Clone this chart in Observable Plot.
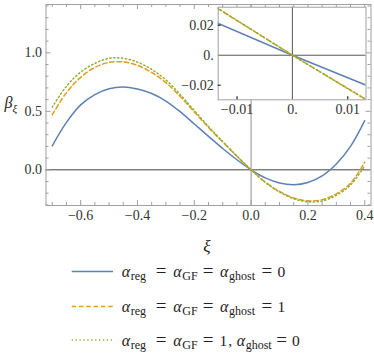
<!DOCTYPE html>
<html><head><meta charset="utf-8">
<script src="https://cdn.jsdelivr.net/npm/d3@7"></script>
<script src="https://cdn.jsdelivr.net/npm/@observablehq/plot@0.6"></script>
<style>
html,body{margin:0;padding:0;background:#fff;}
#wrap{position:relative;width:374px;height:362px;overflow:hidden;background:#fff;font-family:'Liberation Serif';}
#wrap svg{position:absolute;overflow:visible;}
#wrap text{font-family:'Liberation Serif';}
</style></head><body><div id="wrap"></div>
<script>
// ---- data ----
const xi = [-0.70,-0.65,-0.60,-0.55,-0.50,-0.45,-0.40,-0.35,-0.30,-0.25,-0.20,-0.15,-0.10,-0.05,0.00,0.05,0.10,0.15,0.20,0.25,0.30,0.35,0.40];
const betaAll0 = [0.205,0.405,0.555,0.643,0.693,0.708,0.69,0.652,0.588,0.497,0.392,0.286,0.182,0.086,0,-0.069,-0.112,-0.127,-0.108,-0.052,0.05,0.2,0.42];
const betaAll1 = [0.47,0.66,0.79,0.875,0.918,0.922,0.892,0.832,0.745,0.628,0.495,0.362,0.238,0.116,0,-0.105,-0.185,-0.24,-0.265,-0.255,-0.205,-0.115,0.065];
const betaGhost0 = [0.535,0.715,0.835,0.91,0.953,0.953,0.92,0.858,0.768,0.645,0.507,0.37,0.242,0.118,0,-0.108,-0.19,-0.247,-0.273,-0.266,-0.218,-0.13,0.035];

const xiInset = [-0.0136, 0, 0.0136];
const insetAll0 = [0.0215, 0, -0.0204];
const insetAll1 = [0.0313, 0, -0.0301];
const insetGhost0 = [0.0316, 0, -0.0303];

const xMajor = [-0.6,-0.4,-0.2,0,0.2,0.4];
const xTickLabels = ["\u22120.6","\u22120.4","\u22120.2","0.0","0.2","0.4"];
const xMinor = [-0.7,-0.65,-0.55,-0.5,-0.45,-0.35,-0.3,-0.25,-0.15,-0.1,-0.05,0.05,0.1,0.15,0.25,0.3,0.35];
const yMajor = [0,0.5,1.0];
const yTickLabels = ["0.0","0.5","1.0"];
const yMinor = [-0.3,-0.2,-0.1,0.1,0.2,0.3,0.4,0.6,0.7,0.8,0.9,1.1,1.2,1.3,1.4];

const insetXTicks = [-0.01,0,0.01];
const insetXLabels = ["\u22120.01","0.","0.01"];
const insetYTicks = [-0.02,0,0.02];
const insetYLabels = ["\u22120.02","0.","0.02"];

const seriesNames = ["all0","all1","ghost0"];
const colors = {all0:"#5E81B5", all1:"#E19C24", ghost0:"#8FB032"};
const dashes = {all0:null, all1:"4.5,2.8", ghost0:"1.3,2.6"};

const FONT = "Liberation Serif";

// ---- build ----
const wrap = document.getElementById("wrap");
const rows = [];
xi.forEach((x,i)=>{
  rows.push({xi:x, beta:betaAll0[i], s:"all0"});
  rows.push({xi:x, beta:betaAll1[i], s:"all1"});
  rows.push({xi:x, beta:betaGhost0[i], s:"ghost0"});
});
const insetRows = [];
xiInset.forEach((x,i)=>{
  insetRows.push({xi:x, beta:insetAll0[i], s:"all0"});
  insetRows.push({xi:x, beta:insetAll1[i], s:"all1"});
  insetRows.push({xi:x, beta:insetGhost0[i], s:"ghost0"});
});
const xLab = new Map(xMajor.map((d,i)=>[d,xTickLabels[i]]));
const yLab = new Map(yMajor.map((d,i)=>[d,yTickLabels[i]]));
const ixLab = new Map(insetXTicks.map((d,i)=>[d,insetXLabels[i]]));
const iyLab = new Map(insetYTicks.map((d,i)=>[d,insetYLabels[i]]));

const H = 270, mT = 4, mB = 65, mL = 45.5, mR = 3.5;
const innerH = H - mT - mB, innerW = 374 - mL - mR;
const frameC = "#a0a0a0";

function lineMarks(data, curve, clip) {
  return seriesNames.map(s => Plot.line(data.filter(d=>d.s===s), {
    x:"xi", y:"beta", stroke: colors[s], strokeWidth: 1.5,
    strokeDasharray: dashes[s], curve, clip
  }));
}

const main = Plot.plot({
  width: 374, height: H,
  marginTop: mT, marginBottom: mB, marginLeft: mL, marginRight: mR,
  x: {domain: [-0.722, 0.422]},
  y: {domain: [-0.305, 1.413]},
  style: {fontFamily: FONT, fontSize: "14px", color: "#333", background: "transparent"},
  marks: [
    Plot.ruleY([0], {stroke: "#444", strokeWidth: 1}),
    Plot.ruleX([0], {stroke: "#aaa", strokeWidth: 1.3}),
    ...lineMarks(rows, "catmull-rom", false),
    Plot.frame({stroke: frameC}),
    Plot.tickX(xMajor, {x: d=>d, insetTop: innerH-5, stroke: frameC}),
    Plot.tickX(xMinor, {x: d=>d, insetTop: innerH-3, stroke: frameC}),
    Plot.tickX(xMajor, {x: d=>d, insetBottom: innerH-5, stroke: frameC}),
    Plot.tickX(xMinor, {x: d=>d, insetBottom: innerH-3, stroke: frameC}),
    Plot.tickY(yMajor, {y: d=>d, insetRight: innerW-5, stroke: frameC}),
    Plot.tickY(yMinor, {y: d=>d, insetRight: innerW-3, stroke: frameC}),
    Plot.tickY(yMajor, {y: d=>d, insetLeft: innerW-5, stroke: frameC}),
    Plot.tickY(yMinor, {y: d=>d, insetLeft: innerW-3, stroke: frameC}),
    Plot.axisX(xMajor, {tickSize: 0, tickPadding: 5, tickFormat: d=>xLab.get(d), label: null, fontFamily: FONT, fontSize: 14}),
    Plot.axisY(yMajor, {tickSize: 0, tickPadding: 4, tickFormat: d=>yLab.get(d), label: null, fontFamily: FONT, fontSize: 14})
  ]
});
main.style.left = "0px"; main.style.top = "0px";
wrap.appendChild(main);

// inset
const iL = 178, iW = 195.5, iH = 121, imL = 39.7, imR = 8, imT = 6.7, imB = 121 - 99.3;
const iInnerH = iH - imT - imB, iInnerW = iW - imL - imR;
const inset = Plot.plot({
  width: iW, height: iH,
  marginTop: imT, marginBottom: imB, marginLeft: imL, marginRight: imR,
  x: {domain: [-0.0134, 0.0133]},
  y: {domain: [-0.0297, 0.032]},
  style: {fontFamily: FONT, fontSize: "14px", color: "#333", background: "transparent"},
  marks: [
    Plot.frame({fill: "white", stroke: "none"}),
    Plot.ruleY([0], {stroke: "#555", strokeWidth: 1}),
    Plot.ruleX([0], {stroke: "#555", strokeWidth: 1}),
    ...lineMarks(insetRows, "linear", true),
    Plot.frame({stroke: frameC}),
    Plot.tickX(insetXTicks.filter(d=>d!==0), {x: d=>d, insetTop: iInnerH-3, stroke: "#333", strokeWidth: 1.3}),
    Plot.tickY(insetYTicks.filter(d=>d!==0), {y: d=>d, insetRight: iInnerW-3, stroke: "#333", strokeWidth: 1.3}),
    Plot.axisX(insetXTicks, {tickSize: 0, tickPadding: 4, tickFormat: d=>ixLab.get(d), label: null, fontFamily: FONT, fontSize: 14}),
    Plot.axisY(insetYTicks, {tickSize: 0, tickPadding: 4.5, tickFormat: d=>iyLab.get(d), label: null, fontFamily: FONT, fontSize: 14})
  ]
});
inset.style.left = iL + "px"; inset.style.top = "0px";
wrap.appendChild(inset);

// labels + legend overlay
const ov = d3.select(wrap).append("svg")
  .attr("width", 374).attr("height", 362)
  .style("left","0px").style("top","0px")
  .attr("font-family", FONT)
  .attr("fill", "#222");
function T(x, y, size, txt) {
  return ov.append("text").attr("x", x).attr("y", y).attr("font-family", FONT).attr("font-size", size).text(txt);
}

T(207, 252, 17, "\u03BE").attr("text-anchor","middle").attr("font-style","italic");
const by = ov.append("text").attr("x", 4.5).attr("y", 108).attr("font-family", FONT).attr("font-size", 16);
by.append("tspan").attr("font-style","italic").text("\u03B2");
by.append("tspan").attr("font-style","italic").attr("font-size", 11).attr("dy", 4).text("\u03BE");

const legendTexts = [
  [["a",0],["s",9,"reg"],["e",39.5],["a",51.6],["s",60.6,"GF"],["e",86.5],["a",98.3],["s",107.3,"ghost"],["e",145.1],["m",159.6,"0"]],
  [["a",0],["s",9,"reg"],["e",39.5],["a",51.6],["s",60.6,"GF"],["e",86.5],["a",98.3],["s",107.3,"ghost"],["e",145.1],["m",159.6,"1"]],
  [["a",0],["s",9,"reg"],["e",39.5],["a",51.6],["s",60.6,"GF"],["e",86.5],["m",101.6,"1"],["t",106.6,","],["a",115],["s",124,"ghost"],["e",159.8],["m",174.1,"0"]]
];
const legBase = [276.5, 311.5, 345.5];
const legSample = [271.5, 306.5, 340];
const tx0 = 121.7;
seriesNames.forEach((s,i)=>{
  ov.append("line").attr("x1", 71.7).attr("x2", 113).attr("y1", legSample[i]).attr("y2", legSample[i])
    .attr("stroke", colors[s]).attr("stroke-width", 1.5).attr("stroke-dasharray", dashes[s]);
  legendTexts[i].forEach(([k,dx,t])=>{
    const x = tx0 + dx, y = legBase[i];
    if (k==="a") T(x, y, 16, "\u03B1").attr("font-style","italic");
    else if (k==="s") T(x, y+3.5, 12, t);
    else if (k==="e") T(x, y, 19, "=").attr("text-anchor","middle");
    else if (k==="m") T(x, y, 15.5, t).attr("text-anchor","middle");
    else T(x, y, 15.5, t);
  });
});
</script></body></html>
